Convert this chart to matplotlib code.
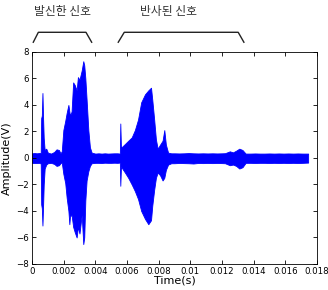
import numpy as np
import matplotlib
matplotlib.use("agg")
import matplotlib.pyplot as plt
from matplotlib.ticker import FuncFormatter

# signal envelope (time in ms, volts)
time_ms = [0.00, 0.15, 0.30, 0.45, 0.55, 0.58, 0.62, 0.66, 0.70, 0.74, 0.80, 0.90,
           1.00, 1.20, 1.40, 1.55, 1.70, 1.80, 1.88, 1.98, 2.10, 2.19, 2.30, 2.36,
           2.40, 2.50, 2.60, 2.70, 2.82, 2.90, 3.00, 3.14, 3.24, 3.30, 3.37, 3.45,
           3.56, 3.66, 3.77, 4.00, 4.20, 4.40, 4.60, 4.80, 5.00, 5.20, 5.40, 5.55,
           5.58, 5.62, 5.65, 5.87, 6.08, 6.30, 6.50, 6.70, 6.90, 7.14, 7.35, 7.52,
           7.60, 7.72, 7.83, 7.94, 8.09, 8.25, 8.36, 8.46, 8.60, 8.80, 9.00, 9.30,
           9.60, 9.90, 10.20, 10.50, 10.80, 11.10, 11.40, 11.70, 12.00, 12.20, 12.50,
           12.70, 12.90, 13.10, 13.30, 13.50, 13.80, 14.10, 14.40, 14.70, 15.00,
           15.30, 15.60, 15.90, 16.20, 16.50, 16.80, 17.10, 17.45]
upper = [0.35, 0.37, 0.35, 0.37, 0.38, 3.0, 3.2, 4.9, 3.0, 1.5, 0.6, 0.7,
         0.4, 0.33, 0.45, 0.65, 0.6, 0.35, 0.5, 2.1, 2.8, 3.4, 4.0, 3.5,
         3.2, 3.5, 5.7, 5.5, 5.1, 6.1, 5.9, 6.6, 7.3, 7.0, 6.0, 4.4,
         2.1, 0.8, 0.4, 0.33, 0.35, 0.33, 0.35, 0.33, 0.34, 0.35, 0.35, 0.33,
         2.6, 0.8, 0.8, 1.05, 1.3, 1.55, 2.1, 2.9, 4.2, 4.8, 5.1, 5.3,
         4.4, 2.9, 1.4, 0.7, 1.0, 1.3, 2.1, 1.0, 0.4, 0.35, 0.35, 0.34,
         0.35, 0.37, 0.35, 0.34, 0.35, 0.34, 0.35, 0.34, 0.35, 0.36, 0.5,
         0.42, 0.55, 0.7, 0.6, 0.33, 0.33, 0.34, 0.33, 0.33, 0.34,
         0.33, 0.34, 0.33, 0.34, 0.33, 0.34, 0.33, 0.33]
lower = [-0.37, -0.38, -0.38, -0.37, -0.42, -3.5, -3.8, -5.1, -3.6, -2.0, -0.8, -0.5,
         -0.4, -0.37, -0.45, -0.6, -0.55, -0.4, -0.33, -1.2, -1.9, -3.0, -4.0, -5.0,
         -4.4, -4.3, -5.2, -5.6, -6.0, -5.2, -5.7, -4.3, -6.5, -6.0, -3.2, -1.7,
         -1.0, -0.6, -0.4, -0.37, -0.37, -0.38, -0.36, -0.37, -0.37, -0.36, -0.37, -0.35,
         -2.1, -0.7, -0.7, -1.1, -1.5, -2.0, -2.5, -3.1, -4.0, -4.6, -5.0, -4.7,
         -3.6, -2.4, -1.5, -1.1, -1.3, -1.7, -1.5, -0.9, -0.5, -0.4, -0.4, -0.38,
         -0.39, -0.4, -0.42, -0.38, -0.39, -0.38, -0.39, -0.38, -0.39, -0.4, -0.55,
         -0.5, -0.6, -0.8, -0.7, -0.37, -0.37, -0.38, -0.37, -0.37, -0.38,
         -0.37, -0.38, -0.37, -0.38, -0.37, -0.38, -0.37, -0.35]

x_ticks = [0, 0.002, 0.004, 0.006, 0.008, 0.01, 0.012, 0.014, 0.016, 0.018]
y_ticks = [-8, -6, -4, -2, 0, 2, 4, 6, 8]

# bracket corners above the plot (time in s, volts)
bracket1_t = [0.00008, 0.0004, 0.00341, 0.00377]
bracket2_t = [0.00545, 0.00583, 0.01303, 0.01339]
bracket_v = [8.73, 9.48, 9.48, 8.73]
labels = ["발신한 신호", "반사된 신호"]

t = np.array(time_ms) / 1000.0

fig = plt.figure(figsize=(3.28, 2.9), dpi=100)
ax = fig.add_axes([0.0976, 0.0897, 0.8684, 0.7313])
ax.fill_between(t, upper, lower, color="#0000ff", linewidth=0.6, edgecolor="#0000ff")

ax.set_xlim(0, 0.018)
ax.set_ylim(-8, 8)
ax.set_xticks(x_ticks)
ax.set_yticks(y_ticks)
ax.xaxis.set_major_formatter(FuncFormatter(lambda v, p: "%g" % round(v, 4)))
ax.tick_params(direction="in", length=3, width=0.6, labelsize=6.2,
               top=True, right=True, pad=2)
for s in ax.spines.values():
    s.set_linewidth(0.6)
ax.set_xlabel("Time(s)", fontsize=8, labelpad=0)
ax.set_ylabel("Amplitude(V)", fontsize=8, labelpad=3)

for bt in (bracket1_t, bracket2_t):
    ax.plot(bt, bracket_v, color="#222222", linewidth=1.0, clip_on=False)

fig.text(62 / 328, 1 - 12 / 290, labels[0], fontsize=8.5, color="#333333",
         ha="center", va="center", family=["Noto Sans CJK KR", "DejaVu Sans"])
fig.text(168 / 328, 1 - 12 / 290, labels[1], fontsize=8.5, color="#333333",
         ha="center", va="center", family=["Noto Sans CJK KR", "DejaVu Sans"])

fig.savefig("out.png", dpi=100)
